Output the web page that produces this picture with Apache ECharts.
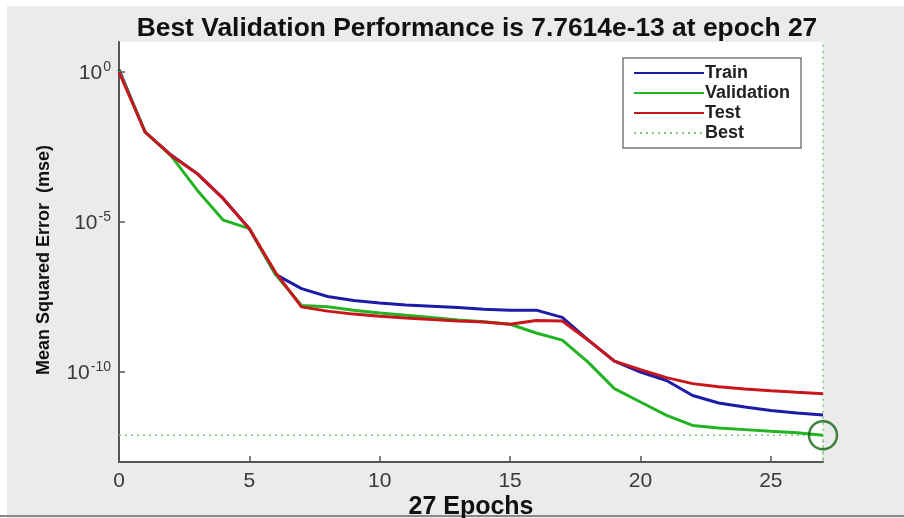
<!DOCTYPE html>
<html>
<head>
<meta charset="utf-8">
<script src="https://cdn.jsdelivr.net/npm/echarts@6/dist/echarts.min.js"></script>
<style>
html,body{margin:0;padding:0;background:#ffffff;}
#chart{width:904px;height:518px;}
</style>
</head>
<body>
<div id="chart"></div>
<script>
const epochs = [0,1,2,3,4,5,6,7,8,9,10,11,12,13,14,15,16,17,18,19,20,21,22,23,24,25,26,27];
const trainMse = [1.2, 1e-2, 1.7e-3, 4.1e-4, 6.0e-5, 6.0e-6, 1.8e-7, 6.0e-8, 3.3e-8, 2.4e-8, 2.0e-8, 1.7e-8, 1.55e-8, 1.4e-8, 1.23e-8, 1.15e-8, 1.15e-8, 6.6e-9, 1.15e-9, 2.3e-10, 1.0e-10, 5.2e-11, 1.65e-11, 9.3e-12, 6.8e-12, 5.2e-12, 4.3e-12, 3.7e-12];
const validationMse = [1.1, 1e-2, 1.6e-3, 1.15e-4, 1.15e-5, 6.0e-6, 1.8e-7, 1.65e-8, 1.5e-8, 1.15e-8, 9.3e-9, 7.8e-9, 6.5e-9, 5.4e-9, 4.7e-9, 3.9e-9, 2.0e-9, 1.15e-9, 2.1e-10, 2.8e-11, 1.0e-11, 3.6e-12, 1.66e-12, 1.35e-12, 1.2e-12, 1.05e-12, 9.5e-13, 7.7614e-13];
const testMse = [1.0, 1e-2, 1.65e-3, 4.1e-4, 6.0e-5, 6.0e-6, 2.1e-7, 1.48e-8, 1.07e-8, 8.5e-9, 7.2e-9, 6.3e-9, 5.6e-9, 5.0e-9, 4.6e-9, 3.9e-9, 5.2e-9, 5.0e-9, 1.15e-9, 2.3e-10, 1.2e-10, 6.5e-11, 4.1e-11, 3.2e-11, 2.7e-11, 2.35e-11, 2.1e-11, 1.9e-11];
const bestEpoch = 27;
const bestValue = 7.7614e-13;
const xTickValues = [0,5,10,15,20,25];
const yTickValues = [1e-10, 1e-5, 1];
const yMin = 1e-13, yMax = 10;
const seriesNames = ['Train','Validation','Test','Best'];

const pairs = arr => epochs.map((e,i)=>[e, arr[i]]);
const chart = echarts.init(document.getElementById('chart'), null, {renderer:'canvas'});
const FONT = '"Liberation Sans", Arial, sans-serif';
chart.setOption({
  backgroundColor: '#ebebeb',
  animation: false,
  title: {
    text: 'Best Validation Performance is 7.7614e-13 at epoch 27',
    left: 477, top: 11, textAlign: 'center',
    padding: [5, 0, 5, 0],
    textStyle: {fontFamily: FONT, fontWeight: 'bold', fontSize: 26.4, color: '#111'}
  },
  grid: {left: 119, right: 81, top: 42, bottom: 56, show: true, backgroundColor: '#ffffff', borderWidth: 0, containLabel: false, outerBoundsMode: 'none'},
  legend: {
    data: seriesNames,
    orient: 'vertical', left: 623, top: 58,
    itemWidth: 70, itemHeight: 14, itemGap: 2,
    padding: [6, 11, 6, 10],
    backgroundColor: '#ffffff', borderColor: '#7a7a7a', borderWidth: 1.5,
    itemStyle: {opacity: 0},
    textStyle: {fontFamily: FONT, fontWeight: 'bold', fontSize: 18, lineHeight: 16, color: '#222', padding: [0,0,0,-4]}
  },
  xAxis: {
    type: 'value', min: 0, max: 27,
    name: '27 Epochs', nameLocation: 'middle', nameGap: 33, nameMoveOverlap: false,
    nameTextStyle: {fontFamily: FONT, fontWeight: 'bold', fontSize: 25, color: '#111'},
    axisLine: {show: true, lineStyle: {color: '#555', width: 2}},
    axisTick: {show: true, inside: true, length: 6, lineStyle: {color: '#555', width: 1.5}, customValues: xTickValues},
    axisLabel: {fontFamily: FONT, fontSize: 21, color: '#3a3a3a', margin: 9, customValues: xTickValues},
    splitLine: {show: false}
  },
  yAxis: {
    type: 'log', logBase: 10, min: yMin, max: yMax,
    name: 'Mean Squared Error  (mse)', nameLocation: 'middle', nameGap: 66, nameMoveOverlap: false,
    nameTextStyle: {fontFamily: FONT, fontWeight: 'bold', fontSize: 18, color: '#111', padding: [0, 16, 0, 0]},
    axisLine: {show: true, lineStyle: {color: '#555', width: 2}},
    axisTick: {show: true, inside: true, length: 6, lineStyle: {color: '#555', width: 1.5}, customValues: yTickValues},
    axisLabel: {
      customValues: yTickValues, margin: 8,
      formatter: v => '{b|10}{s|' + Math.round(Math.log10(v)) + '}',
      rich: {
        b: {fontFamily: FONT, fontSize: 21, color: '#3a3a3a', verticalAlign: 'bottom'},
        s: {fontFamily: FONT, fontSize: 14, color: '#3a3a3a', verticalAlign: 'top', padding: [0,0,9,1]}
      }
    },
    splitLine: {show: false}
  },
  series: [
    {name: 'Train', type: 'line', data: pairs(trainMse), showSymbol: false, symbol: 'none', lineStyle: {color: '#1c1ca6', width: 3}, itemStyle: {color: '#1c1ca6'}},
    {name: 'Validation', type: 'line', data: pairs(validationMse), showSymbol: false, symbol: 'none', lineStyle: {color: '#22b422', width: 3}, itemStyle: {color: '#22b422'}},
    {name: 'Test', type: 'line', data: pairs(testMse), showSymbol: false, symbol: 'none', lineStyle: {color: '#c8161c', width: 3}, itemStyle: {color: '#c8161c'}},
    {name: 'Best', type: 'line', data: [[0, bestValue], [bestEpoch, bestValue], [bestEpoch, yMin], [bestEpoch, yMax]], showSymbol: false, symbol: 'none', z: 1,
      lineStyle: {color: '#7cc47c', width: 1.5, type: [2, 4]}, itemStyle: {color: '#7cc47c'}},
    {name: 'BestPoint', type: 'scatter', data: [[bestEpoch, bestValue]], symbol: 'circle', symbolSize: 28, z: 5,
      itemStyle: {color: 'rgba(0,0,0,0)', borderColor: '#0f640f', borderWidth: 2.5}}
  ],
  graphic: [
    {type: 'rect', shape: {x: 0, y: 0, width: 904, height: 6}, style: {fill: '#ffffff'}, silent: true},
    {type: 'rect', shape: {x: 0, y: 0, width: 7, height: 518}, style: {fill: '#ffffff'}, silent: true},
    {type: 'rect', shape: {x: 0, y: 515, width: 904, height: 2}, style: {fill: '#8a8a8a'}, silent: true}
  ]
});
</script>
</body>
</html>
